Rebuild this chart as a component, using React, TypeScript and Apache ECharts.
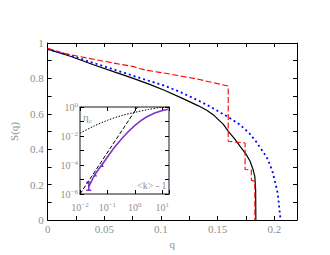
import React, { useEffect, useRef } from "react";
import * as echarts from "echarts";

// Main panel: S(q) vs q
const blackQ = [0, 0.02, 0.041, 0.06, 0.0755, 0.09, 0.104, 0.118, 0.133, 0.14, 0.147, 0.155, 0.16, 0.165, 0.17, 0.175, 0.1785, 0.181, 0.1828, 0.1835, 0.1837];
const blackS = [0.965, 0.925, 0.876, 0.834, 0.8, 0.766, 0.73, 0.69, 0.645, 0.621, 0.59, 0.54, 0.497, 0.458, 0.414, 0.372, 0.333, 0.29, 0.245, 0.17, 0];

const redQ = [0, 0.0155, 0.035, 0.047, 0.064, 0.075, 0.081, 0.087, 0.104, 0.133, 0.1593, 0.1593, 0.1742, 0.1742, 0.1797, 0.1797, 0.1828, 0.1828];
const redS = [0.97, 0.94, 0.915, 0.9, 0.88, 0.868, 0.856, 0.846, 0.829, 0.795, 0.757, 0.445, 0.435, 0.285, 0.283, 0.225, 0.218, 0];

const blueQ = [0, 0.02, 0.04, 0.06, 0.084, 0.104, 0.118, 0.133, 0.145, 0.153, 0.159, 0.17, 0.178, 0.184, 0.187, 0.193, 0.196, 0.1985, 0.2015, 0.203, 0.204, 0.2055];
const blueS = [0.965, 0.93, 0.888, 0.847, 0.797, 0.757, 0.72, 0.675, 0.635, 0.605, 0.583, 0.537, 0.49, 0.442, 0.414, 0.358, 0.315, 0.27, 0.193, 0.15, 0.09, 0];

const mainXTicks = [0, 0.05, 0.1, 0.15, 0.2];
const mainYTicks = [0, 0.2, 0.4, 0.6, 0.8, 1];

// Inset: log-log vs <k> - 1
const etaX = [0.01, 0.0316, 0.1, 0.316, 1, 3.16, 7.9, 17.8];
const etaY = [0.0158, 0.047, 0.12, 0.25, 0.427, 0.676, 0.91, 1.0];

const dashX = [0.01, 1.26];
const dashY = [1e-6, 1];

const purpleX = [0.0209, 0.0355, 0.063, 0.186, 0.562, 1.78, 5.37, 16.6];
const purpleY = [3.16e-6, 2.24e-5, 1e-4, 1.74e-3, 0.019, 0.126, 0.389, 0.708];
const purpleErr = [[0.0209, 1.8e-6, 6.3e-6]];

const insetXExp = [-2, -1, 0, 1];
const insetYExp = [-6, -4, -2, 0];

const GREY = "#8f8f8f";
const FONT = "Liberation Serif, DejaVu Serif, serif";

const pairs = (xs: number[], ys: number[]) => xs.map((x, i) => [x, ys[i]]);
const logPairs = (xs: number[], ys: number[]) => xs.map((x, i) => [Math.log10(x), Math.log10(ys[i])]);

const near = (v: number, arr: number[]) => arr.some((t) => Math.abs(v - t) < 1e-6);
const fmtNum = (v: number) => String(Math.round(v * 1000) / 1000);

const supRich = {
  b: { fontSize: 10, color: GREY, fontFamily: FONT, lineHeight: 12 },
  s: { fontSize: 7, color: GREY, fontFamily: FONT, verticalAlign: "top", lineHeight: 12, padding: [0, 0, 5, 0] },
};
const expLabel = (v: number, allowed: number[]) => {
  if (!near(v, allowed)) return "";
  const e = Math.round(v);
  return `{b|10}{s|${e < 0 ? "−" + -e : e}}`;
};

export default function App() {
  const ref = useRef<HTMLDivElement>(null);
  useEffect(() => {
    if (!ref.current) return;
    const chart = echarts.init(ref.current, undefined, { renderer: "svg" });
    const tick = { show: true, inside: true, length: 4, lineStyle: { color: "#000", width: 1 } };
    const mainLine = { show: true, onZero: false, lineStyle: { color: "#000", width: 1 } };
    const insetLine = { show: true, onZero: false, lineStyle: { color: "#666", width: 1.5 } };
    const mainLabel = (ticks: number[]) => ({
      color: GREY,
      fontFamily: FONT,
      fontSize: 11,
      formatter: (v: number) => (near(v, ticks) ? fmtNum(v) : ""),
    });
    chart.setOption({
      animation: false,
      backgroundColor: "#fff",
      grid: [
        { left: 42, top: 43, width: 255, height: 177 },
        { left: 80, top: 107, width: 89, height: 87, show: true, backgroundColor: "#fff", borderWidth: 0 },
      ],
      xAxis: [
        {
          gridIndex: 0, type: "value", min: 0, max: 0.22, interval: 0.025,
          axisLine: mainLine, axisTick: tick, splitLine: { show: false },
          axisLabel: { ...mainLabel(mainXTicks), margin: 3 },
          name: "q", nameLocation: "middle", nameGap: 16,
          nameTextStyle: { color: GREY, fontFamily: FONT, fontSize: 11 },
        },
        {
          gridIndex: 0, type: "value", position: "top", min: 0, max: 0.22, interval: 0.025,
          axisLine: mainLine, axisTick: tick, splitLine: { show: false }, axisLabel: { show: false },
        },
        {
          gridIndex: 1, type: "value", min: -2, max: 1.25, interval: 1,
          axisLine: insetLine, axisTick: tick, splitLine: { show: false },
          axisLabel: { margin: 7, rich: supRich, formatter: (v: number) => expLabel(v, insetXExp) },
        },
        {
          gridIndex: 1, type: "value", position: "top", min: -2, max: 1.25, interval: 1,
          axisLine: insetLine, axisTick: tick, splitLine: { show: false }, axisLabel: { show: false },
        },
      ],
      yAxis: [
        {
          gridIndex: 0, type: "value", min: 0, max: 1, interval: 0.1,
          axisLine: mainLine, axisTick: tick, splitLine: { show: false },
          axisLabel: { ...mainLabel(mainYTicks), margin: 4 },
          name: "S(q)", nameLocation: "middle", nameGap: 21, nameRotate: 90,
          nameTextStyle: { color: GREY, fontFamily: FONT, fontSize: 11 },
        },
        {
          gridIndex: 0, type: "value", position: "right", min: 0, max: 1, interval: 0.1,
          axisLine: mainLine, axisTick: tick, splitLine: { show: false }, axisLabel: { show: false },
        },
        {
          gridIndex: 1, type: "value", min: -6, max: 0, interval: 1,
          axisLine: insetLine, axisTick: tick, splitLine: { show: false },
          axisLabel: { margin: 2, rich: supRich, formatter: (v: number) => expLabel(v, insetYExp) },
        },
        {
          gridIndex: 1, type: "value", position: "right", min: -6, max: 0, interval: 1,
          axisLine: insetLine, axisTick: tick, splitLine: { show: false }, axisLabel: { show: false },
        },
      ],
      series: [
        {
          type: "line", xAxisIndex: 0, yAxisIndex: 0, data: pairs(blackQ, blackS), showSymbol: false,
          lineStyle: { color: "#000", width: 1.2 },
        },
        {
          type: "line", xAxisIndex: 0, yAxisIndex: 0, data: pairs(blueQ, blueS), showSymbol: false,
          lineStyle: { color: "#0000ff", width: 1.8, type: [2, 3] },
        },
        {
          type: "line", xAxisIndex: 0, yAxisIndex: 0, data: pairs(redQ, redS), showSymbol: false,
          lineStyle: { color: "#ff0000", width: 1.1, type: [6, 2.5] },
        },
        {
          type: "line", xAxisIndex: 2, yAxisIndex: 2, data: logPairs(etaX, etaY), showSymbol: false,
          smooth: 0.3,
          lineStyle: { color: "#000", width: 1, type: [1.5, 1.5] },
        },
        {
          type: "line", xAxisIndex: 2, yAxisIndex: 2, data: logPairs(dashX, dashY), showSymbol: false,
          lineStyle: { color: "#000", width: 1, type: [4, 2] },
        },
        {
          type: "line", xAxisIndex: 2, yAxisIndex: 2, smooth: 0.3,
          data: logPairs(purpleX, purpleY).map((p, i) => ({ value: p, symbol: i > 0 && i < 3 ? "triangle" : "none" })),
          symbolSize: 4, showSymbol: true,
          itemStyle: { color: "#7b35c8" },
          lineStyle: { color: "#7b35c8", width: 1.6 },
        },
        {
          type: "custom", xAxisIndex: 2, yAxisIndex: 2,
          data: purpleErr.map((d) => [Math.log10(d[0]), Math.log10(d[1]), Math.log10(d[2])]),
          renderItem: (params: any, api: any) => {
            const x = api.value(0);
            const p1 = api.coord([x, api.value(1)]);
            const p2 = api.coord([x, api.value(2)]);
            const st = { stroke: "#7b35c8", lineWidth: 1.5 };
            return {
              type: "group",
              children: [
                { type: "line", shape: { x1: p1[0], y1: p1[1], x2: p2[0], y2: p2[1] }, style: st },
                { type: "line", shape: { x1: p1[0] - 2.5, y1: p1[1], x2: p1[0] + 2.5, y2: p1[1] }, style: st },
                { type: "line", shape: { x1: p2[0] - 2.5, y1: p2[1], x2: p2[0] + 2.5, y2: p2[1] }, style: st },
              ],
            };
          },
        },
      ],
      graphic: [
        { type: "text", x: 83, y: 111, style: { text: "η", fill: GREY, fontSize: 11, fontFamily: FONT } },
        { type: "text", x: 89, y: 117, style: { text: "c", fill: GREY, fontSize: 7, fontFamily: FONT } },
        { type: "text", x: 137, y: 180, style: { text: "<k> - 1", fill: GREY, fontSize: 10, fontFamily: FONT } },
      ],
    });
    return () => chart.dispose();
  }, []);
  return <div ref={ref} style={{ width: 330, height: 255, position: "absolute", left: 0, top: 0 }} />;
}
